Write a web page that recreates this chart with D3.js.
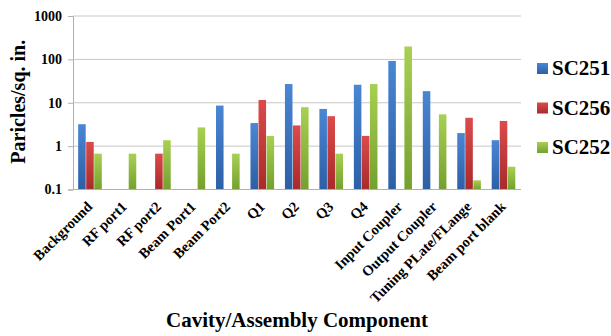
<!DOCTYPE html>
<html>
<head>
<meta charset="utf-8">
<script src="https://cdn.jsdelivr.net/npm/d3@7"></script>
<style>
  html, body { margin: 0; padding: 0; background: #fff; }
  svg { display: block; }
  text { font-family: "Liberation Serif", "Times New Roman", serif; font-weight: bold; fill: #000; }
</style>
</head>
<body>
<svg id="chart" width="611" height="336"></svg>
<script>
// Particle counts per cavity/assembly component (null = no bar)
const categories = ["Background", "RF port1", "RF port2", "Beam Port1", "Beam Port2",
  "Q1", "Q2", "Q3", "Q4", "Input Coupler", "Output Coupler", "Tuning PLate/FLange", "Beam port blank"];
const seriesNames = ["SC251", "SC256", "SC252"];
const sc251 = [3.2, null, null, null, 8.6, 3.4, 27, 7.2, 26, 92, 18.5, 2.0, 1.37];
const sc256 = [1.25, null, 0.67, null, null, 11.6, 3.0, 4.9, 1.72, null, null, 4.5, 3.8];
const sc252 = [0.67, 0.67, 1.37, 2.7, 0.67, 1.72, 7.9, 0.67, 27, 198, 5.4, 0.163, 0.335];
const yTicks = [0.1, 1, 10, 100, 1000];

const seriesValues = [sc251, sc256, sc252];
const colors = {
  SC251: ["#4a86d4", "#2c5fa6"],
  SC256: ["#dc4b4b", "#a82a2a"],
  SC252: ["#a8d052", "#74a02e"]
};

const svg = d3.select("#chart");
const margin = { left: 73, right: 90, top: 16, bottom: 146.5 };
const W = 611, H = 336;
const x0 = margin.left, x1 = W - margin.right;
const yTop = margin.top, yBot = H - margin.bottom;

const x = d3.scaleBand().domain(categories).range([x0, x1]).paddingInner(0.3).paddingOuter(0.15);
const xs = d3.scaleBand().domain(seriesNames).range([0, x.bandwidth()]);
const y = d3.scaleLog().domain([0.1, 1000]).range([yBot, yTop]);

// gradients for bars
const defs = svg.append("defs");
seriesNames.forEach(name => {
  const g = defs.append("linearGradient").attr("id", "g-" + name)
    .attr("x1", 0).attr("y1", 0).attr("x2", 0).attr("y2", 1);
  g.append("stop").attr("offset", "0%").attr("stop-color", colors[name][0]);
  g.append("stop").attr("offset", "100%").attr("stop-color", colors[name][1]);
});

// horizontal gridlines
svg.append("g").selectAll("line").data(yTicks).join("line")
  .attr("x1", x0).attr("x2", x1)
  .attr("y1", d => y(d)).attr("y2", d => y(d))
  .attr("stroke", "#c8c8c8").attr("stroke-width", 1);

// y axis
const yAxis = d3.axisLeft(y).tickValues(yTicks).tickFormat(d => String(d)).tickSize(5).tickPadding(6);
const gy = svg.append("g").attr("transform", `translate(${x0},0)`).call(yAxis);
gy.select(".domain").attr("stroke", "#b0b0b0");
gy.selectAll(".tick line").attr("stroke", "#b0b0b0");
gy.selectAll(".tick text").style("font-size", "14px")
  .style("font-family", '"Liberation Serif", serif').style("font-weight", "bold").attr("fill", "#000");

// bars
seriesNames.forEach((name, si) => {
  const data = categories.map((c, i) => ({ c, v: seriesValues[si][i] })).filter(d => d.v != null);
  svg.append("g").selectAll("rect").data(data).join("rect")
    .attr("x", d => x(d.c) + xs(name))
    .attr("width", xs.bandwidth() - 0.5)
    .attr("y", d => y(d.v))
    .attr("height", d => yBot - y(d.v))
    .attr("fill", `url(#g-${name})`);
});

// x axis baseline
svg.append("line").attr("x1", x0).attr("x2", x1).attr("y1", yBot).attr("y2", yBot)
  .attr("stroke", "#b0b0b0");

// category labels
svg.append("g").selectAll("text").data(categories).join("text")
  .attr("transform", d => `translate(${x(d) + x.bandwidth() / 2 + 3},${yBot + 18}) rotate(-45)`)
  .attr("text-anchor", "end")
  .style("font-size", "14.5px")
  .text(d => d);

// axis titles
svg.append("text")
  .attr("transform", `translate(25,${(yTop + yBot) / 2 - 1}) rotate(-90)`)
  .attr("text-anchor", "middle")
  .style("font-size", "20px")
  .text("Paricles/sq. in.");

svg.append("text")
  .attr("x", 297).attr("y", 327)
  .attr("text-anchor", "middle")
  .style("font-size", "21px")
  .text("Cavity/Assembly Component");

// legend
const legendY = d3.scalePoint().domain(seriesNames).range([68, 147]);
const lg = svg.append("g").selectAll("g").data(seriesNames).join("g")
  .attr("transform", d => `translate(537,${legendY(d)})`);
lg.append("rect").attr("x", 0).attr("y", -5).attr("width", 11).attr("height", 11)
  .attr("fill", d => `url(#g-${d})`);
lg.append("text").attr("x", 15).attr("y", 7).style("font-size", "21px").text(d => d);
</script>
</body>
</html>
